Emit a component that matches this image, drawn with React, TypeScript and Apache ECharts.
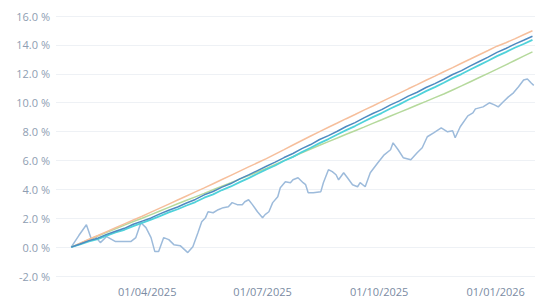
import React, { useEffect, useRef } from "react";
import * as echarts from "echarts";

// Weekly smooth series (from 31/01/2025, one point per week)
const weeklyStart = "2025-01-31";
const orangeSeries = [0, 0.27, 0.54, 0.8, 1.07, 1.34, 1.61, 1.88, 2.14, 2.42, 2.7, 2.98, 3.26, 3.54, 3.82, 4.1, 4.39, 4.68, 4.97, 5.26, 5.55, 5.84, 6.13, 6.44, 6.75, 7.07, 7.38, 7.69, 8.0, 8.3, 8.59, 8.89, 9.18, 9.48, 9.77, 10.07, 10.37, 10.66, 10.96, 11.25, 11.55, 11.84, 12.14, 12.43, 12.73, 13.02, 13.32, 13.61, 13.91, 14.15, 14.42, 14.7, 14.98];
const blueSeries = [0, 0.22, 0.45, 0.62, 0.88, 1.1, 1.3, 1.58, 1.8, 2.02, 2.3, 2.55, 2.78, 3.05, 3.3, 3.62, 3.85, 4.15, 4.4, 4.72, 5.0, 5.3, 5.6, 5.88, 6.2, 6.48, 6.82, 7.1, 7.45, 7.72, 8.02, 8.35, 8.62, 8.95, 9.25, 9.52, 9.85, 10.12, 10.45, 10.72, 11.05, 11.32, 11.62, 11.95, 12.22, 12.55, 12.85, 13.15, 13.48, 13.75, 14.05, 14.32, 14.6];
const cyanSeries = [0, 0.18, 0.4, 0.55, 0.8, 1.02, 1.2, 1.45, 1.68, 1.9, 2.15, 2.4, 2.62, 2.88, 3.12, 3.42, 3.65, 3.95, 4.2, 4.5, 4.78, 5.08, 5.38, 5.65, 5.98, 6.25, 6.58, 6.88, 7.2, 7.48, 7.8, 8.1, 8.38, 8.7, 9.0, 9.28, 9.6, 9.88, 10.2, 10.48, 10.8, 11.08, 11.38, 11.7, 11.98, 12.3, 12.6, 12.9, 13.22, 13.5, 13.8, 14.06, 14.35];
const greenSeries = [0, 0.26, 0.52, 0.77, 1.02, 1.27, 1.52, 1.77, 2.0, 2.25, 2.5, 2.75, 3.0, 3.24, 3.48, 3.72, 3.97, 4.22, 4.46, 4.71, 4.96, 5.2, 5.45, 5.72, 5.99, 6.26, 6.52, 6.79, 7.05, 7.3, 7.55, 7.81, 8.06, 8.31, 8.57, 8.82, 9.08, 9.33, 9.58, 9.84, 10.09, 10.35, 10.6, 10.88, 11.16, 11.45, 11.74, 12.03, 12.32, 12.62, 12.92, 13.22, 13.52];

// Noisy series
const noisyDates = ["2025-01-31", "2025-02-06", "2025-02-12", "2025-02-16", "2025-02-19", "2025-02-23", "2025-02-28", "2025-03-07", "2025-03-12", "2025-03-19", "2025-03-23", "2025-03-27", "2025-03-31", "2025-04-04", "2025-04-07", "2025-04-10", "2025-04-14", "2025-04-18", "2025-04-22", "2025-04-27", "2025-05-03", "2025-05-07", "2025-05-11", "2025-05-14", "2025-05-17", "2025-05-19", "2025-05-23", "2025-05-27", "2025-05-31", "2025-06-04", "2025-06-07", "2025-06-11", "2025-06-15", "2025-06-17", "2025-06-20", "2025-06-23", "2025-06-27", "2025-07-01", "2025-07-03", "2025-07-06", "2025-07-09", "2025-07-13", "2025-07-15", "2025-07-19", "2025-07-23", "2025-07-25", "2025-07-29", "2025-08-02", "2025-08-04", "2025-08-06", "2025-08-10", "2025-08-16", "2025-08-18", "2025-08-22", "2025-08-25", "2025-08-28", "2025-08-30", "2025-09-03", "2025-09-06", "2025-09-10", "2025-09-14", "2025-09-16", "2025-09-20", "2025-09-24", "2025-09-30", "2025-10-05", "2025-10-10", "2025-10-12", "2025-10-16", "2025-10-20", "2025-10-26", "2025-10-31", "2025-11-04", "2025-11-08", "2025-11-13", "2025-11-19", "2025-11-24", "2025-11-28", "2025-11-30", "2025-12-04", "2025-12-10", "2025-12-14", "2025-12-16", "2025-12-22", "2025-12-27", "2025-12-31", "2026-01-03", "2026-01-07", "2026-01-11", "2026-01-15", "2026-01-19", "2026-01-23", "2026-01-26", "2026-01-29", "2026-01-31"];
const noisyValues = [0, 0.8, 1.55, 0.52, 0.73, 0.31, 0.73, 0.38, 0.38, 0.38, 0.66, 1.69, 1.35, 0.66, -0.31, -0.31, 0.66, 0.52, 0.17, 0.1, -0.38, 0.03, 1.0, 1.76, 2.04, 2.45, 2.38, 2.59, 2.73, 2.8, 3.08, 2.94, 2.94, 3.14, 3.28, 2.94, 2.45, 2.04, 2.25, 2.45, 3.08, 3.49, 4.11, 4.53, 4.46, 4.66, 4.8, 4.46, 4.32, 3.77, 3.77, 3.84, 4.46, 5.36, 5.22, 5.01, 4.66, 5.15, 4.8, 4.32, 4.18, 4.46, 4.18, 5.15, 5.84, 6.39, 6.74, 7.22, 6.74, 6.19, 6.05, 6.53, 6.88, 7.64, 7.91, 8.26, 7.98, 8.05, 7.57, 8.33, 9.09, 9.29, 9.57, 9.71, 9.99, 9.85, 9.71, 10.06, 10.4, 10.68, 11.1, 11.57, 11.64, 11.36, 11.2];

const xLabelDates = ["2025-04-01", "2025-07-01", "2025-10-01", "2026-01-01"];
const yTicks = [-2, 0, 2, 4, 6, 8, 10, 12, 14, 16];

function parseDate(s: string) {
  const [y, m, d] = s.split("-").map(Number);
  return new Date(y, m - 1, d).getTime();
}

function weeklyDates(start: string, n: number) {
  const base = new Date(parseDate(start));
  const out: number[] = [];
  for (let i = 0; i < n; i++) {
    out.push(new Date(base.getFullYear(), base.getMonth(), base.getDate() + 7 * i).getTime());
  }
  return out;
}

function fmt(v: number) {
  const d = new Date(v);
  const dd = String(d.getDate()).padStart(2, "0");
  const mm = String(d.getMonth() + 1).padStart(2, "0");
  return `${dd}/${mm}/${d.getFullYear()}`;
}

export default function App() {
  const ref = useRef<HTMLDivElement>(null);
  useEffect(() => {
    if (!ref.current) return;
    const chart = echarts.init(ref.current, undefined, { renderer: "svg" });
    const wd = weeklyDates(weeklyStart, orangeSeries.length);
    const mk = (arr: number[]) => arr.map((v, i) => [wd[i], v]);
    const lineBase = { type: "line", showSymbol: false, symbol: "none", smooth: false };
    chart.setOption({
      animation: false,
      backgroundColor: "#ffffff",
      grid: { left: 56, right: 0, top: 16, bottom: 22 },
      xAxis: {
        type: "value",
        min: parseDate("2025-01-19"),
        max: parseDate("2026-02-01"),
        axisLine: { show: false },
        axisTick: { show: false },
        splitLine: { show: false },
        axisLabel: {
          customValues: xLabelDates.map(parseDate),
          formatter: (v: number) => fmt(v),
          color: "#7a8ba3",
          fontFamily: "Open Sans",
          fontSize: 11,
          margin: 10,
          hideOverlap: false,
        },
      },
      yAxis: {
        type: "value",
        min: yTicks[0],
        max: yTicks[yTicks.length - 1],
        interval: 2,
        axisLine: { show: false },
        axisTick: { show: false },
        splitLine: { show: true, lineStyle: { color: "#eef1f5", width: 1 } },
        axisLabel: {
          formatter: (v: number) => v.toFixed(1) + " %",
          color: "#8e9db2",
          fontFamily: "Open Sans",
          fontSize: 11,
          margin: 6,
        },
      },
      series: [
        { ...lineBase, name: "noisy", data: noisyDates.map((d, i) => [parseDate(d), noisyValues[i]]), lineStyle: { color: "#9dbbdb", width: 1.5 }, z: 1 },
        { ...lineBase, name: "green", data: mk(greenSeries), lineStyle: { color: "#b5d99c", width: 1.5 }, z: 2 },
        { ...lineBase, name: "orange", data: mk(orangeSeries), lineStyle: { color: "#f6bf9c", width: 1.5 }, z: 3 },
        { ...lineBase, name: "cyan", data: mk(cyanSeries), lineStyle: { color: "#4fd2da", width: 1.8 }, z: 4 },
        { ...lineBase, name: "blue", data: mk(blueSeries), lineStyle: { color: "#4f8ac0", width: 1.5 }, z: 5 },
      ],
    });
    return () => chart.dispose();
  }, []);
  return (
    <div
      ref={ref}
      style={{ position: "fixed", left: 0, top: 0, width: 535, height: 298, background: "#fff" }}
    />
  );
}
